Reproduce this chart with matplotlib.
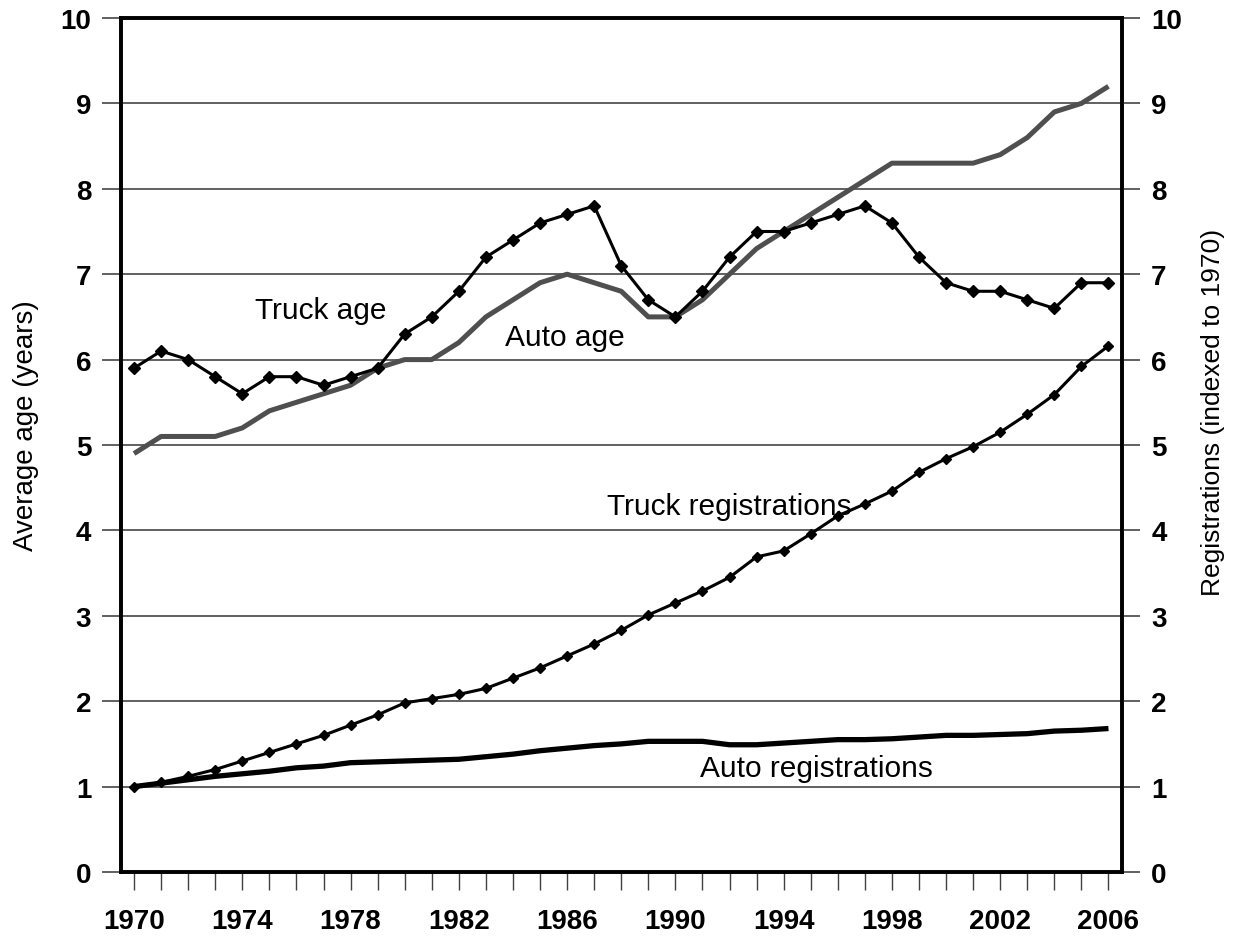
import matplotlib
matplotlib.use("Agg")
import matplotlib.pyplot as plt
import numpy as np

plt.rcParams['font.family'] = ['Liberation Sans', 'DejaVu Sans']

years = np.arange(1970, 2007)

truck_age = [5.9, 6.1, 6.0, 5.8, 5.6, 5.8, 5.8, 5.7, 5.8, 5.9,
             6.3, 6.5, 6.8, 7.2, 7.4, 7.6, 7.7, 7.8, 7.1, 6.7,
             6.5, 6.8, 7.2, 7.5, 7.5, 7.6, 7.7, 7.8, 7.6, 7.2,
             6.9, 6.8, 6.8, 6.7, 6.6, 6.9, 6.9]

auto_age = [4.9, 5.1, 5.1, 5.1, 5.2, 5.4, 5.5, 5.6, 5.7, 5.9,
            6.0, 6.0, 6.2, 6.5, 6.7, 6.9, 7.0, 6.9, 6.8, 6.5,
            6.5, 6.7, 7.0, 7.3, 7.5, 7.7, 7.9, 8.1, 8.3, 8.3,
            8.3, 8.3, 8.4, 8.6, 8.9, 9.0, 9.2]

truck_reg = [1.00, 1.05, 1.12, 1.20, 1.30, 1.40, 1.50, 1.60, 1.72, 1.84,
             1.98, 2.03, 2.08, 2.15, 2.27, 2.39, 2.53, 2.67, 2.83, 3.01,
             3.15, 3.29, 3.45, 3.69, 3.76, 3.96, 4.17, 4.31, 4.46, 4.68,
             4.84, 4.98, 5.15, 5.36, 5.59, 5.92, 6.16]

auto_reg = [1.00, 1.04, 1.08, 1.12, 1.15, 1.18, 1.22, 1.24, 1.28, 1.29,
            1.30, 1.31, 1.32, 1.35, 1.38, 1.42, 1.45, 1.48, 1.50, 1.53,
            1.53, 1.53, 1.49, 1.49, 1.51, 1.53, 1.55, 1.55, 1.56, 1.58,
            1.60, 1.60, 1.61, 1.62, 1.65, 1.66, 1.68]

series_labels = ["Truck age", "Auto age", "Truck registrations", "Auto registrations"]
label_pos = [(1976.9, 6.58), (1985.9, 6.26), (1992.0, 4.28), (1995.2, 1.22)]

W, H = 1244, 937
fig = plt.figure(figsize=(W / 100, H / 100), dpi=100)
x0, x1, y0, y1 = 120.5, 1122, 19, 873
ax = fig.add_axes([x0 / W, 1 - y1 / H, (x1 - x0) / W, (y1 - y0) / H])

grid_col = '#606060'
ax.set_ylim(0, 10)
ax.set_xlim(1969.5, 2006.5)
ax.set_yticks(range(0, 11))
ax.yaxis.grid(True, color=grid_col, lw=1.4)
ax.set_axisbelow(True)

ax.plot(years, auto_age, color='#4f4f4f', lw=3.6, solid_capstyle='butt', zorder=3)
ax.plot(years, auto_reg, color='black', lw=3.8, solid_capstyle='butt', zorder=3)
ax.plot(years, truck_age, color='black', lw=2.2, marker='D', ms=6.5, zorder=4)
ax.plot(years, truck_reg, color='black', lw=2.2, marker='D', ms=5.5, zorder=4)

for txt, (tx, ty) in zip(series_labels, label_pos):
    ax.text(tx, ty, txt, fontsize=21.5, ha='center', va='center', zorder=5)

ax.set_xticks(years)
ax.set_xticklabels([str(y) if (y - 1970) % 4 == 0 else '' for y in years])
ax.tick_params(axis='x', direction='out', length=13, width=1.0, color='#404040',
               pad=13, labelsize=20)
ax.tick_params(axis='y', direction='out', length=14, width=1.4, color=grid_col,
               pad=7, labelsize=20)
for lab in ax.get_xticklabels() + ax.get_yticklabels():
    lab.set_fontweight('bold')

ax2 = ax.twinx()
ax2.set_ylim(0, 10)
ax2.set_yticks(range(0, 11))
ax2.tick_params(axis='y', direction='out', length=13, width=1.4, color=grid_col,
                pad=8, labelsize=20)
for lab in ax2.get_yticklabels():
    lab.set_fontweight('bold')

for a in (ax, ax2):
    for s in a.spines.values():
        s.set_linewidth(2.6)
        s.set_color('black')

fig.text(26 / W, 1 - 426 / H, "Average age (years)", rotation=90,
         ha='center', va='center', fontsize=20)
fig.text(1213 / W, 1 - 412 / H, "Registrations (indexed to 1970)", rotation=90,
         ha='center', va='center', fontsize=19)

fig.savefig("out.png", dpi=100)
